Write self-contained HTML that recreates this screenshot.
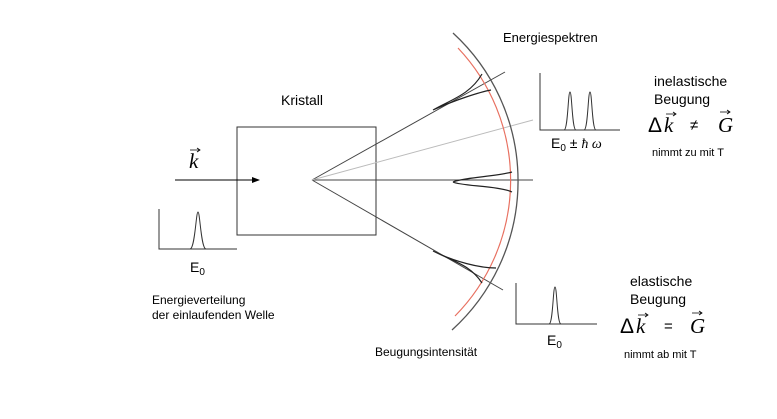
<!DOCTYPE html>
<html><head><meta charset="utf-8"><style>
body{margin:0;background:#fff}
svg{display:block;font-family:"Liberation Sans",sans-serif}
.s{font-family:"Liberation Serif",serif;font-style:italic}
</style></head><body>
<svg width="777" height="419" viewBox="0 0 777 419">
<defs><marker id="ah" markerWidth="8" markerHeight="6" refX="7" refY="3" orient="auto"><path d="M0,0L8,3L0,6z" fill="#000"/></marker></defs>
<rect x="237" y="127" width="139" height="108" fill="none" stroke="#333" stroke-width="1"/>
<text x="281" y="105" font-size="14">Kristall</text>
<line x1="175" y1="180" x2="259" y2="180" stroke="#000" marker-end="url(#ah)"/>
<text x="189" y="168" font-size="21" class="s">k</text>
<path d="M190,150H200M197,148L200,150L197,152" stroke="#000" stroke-width="0.8" fill="none"/>
<g stroke="#444" stroke-width="1" fill="none">
<line x1="312" y1="180" x2="505" y2="72"/>
<line x1="312" y1="180" x2="533" y2="180"/>
<line x1="312" y1="180" x2="503" y2="290"/>
<line x1="312" y1="180" x2="533" y2="120" stroke="#bbb"/>
</g>
<path d="M453,33 A201,201 0 0 1 452,330" fill="none" stroke="#555" stroke-width="1.3"/>
<path d="M458,48 A193,193 0 0 1 455,316" fill="none" stroke="#e87060" stroke-width="1.2"/>
<g stroke="#222" stroke-width="1.2" fill="none">
<path d="M433,110 C450,100 470,95 482,74 M433,110 C455,100 480,92 491,90"/>
<path d="M453,182 C460,178 500,176 512,172 M453,182 C460,186 500,186 512,192"/>
<path d="M433,251 C455,262 480,268 496,268 M433,251 C455,262 470,265 482,283"/>
</g>
<text x="503" y="42" font-size="13">Energiespektren</text>
<text x="375" y="356" font-size="12">Beugungsintensität</text>
<g stroke="#333" fill="none">
<path d="M159,209V249H237"/><path d="M190,249C195,249 196,212 198,212C200,212 201,249 206,249"/>
</g>
<text x="190" y="272" font-size="14">E<tspan font-size="10" dy="3">0</tspan></text>
<text x="152" y="304" font-size="12">Energieverteilung</text>
<text x="152" y="319" font-size="12">der einlaufenden Welle</text>
<g stroke="#333" fill="none">
<path d="M540,73V130H620"/><path d="M564,130C568,130 568,92 570,92C572,92 572,130 576,130M584,130C588,130 588,92 590,92C592,92 592,130 596,130"/>
</g>
<text x="551" y="148" font-size="14">E<tspan font-size="10" dy="3">0</tspan><tspan dy="-3"> ± </tspan><tspan class="s">ħ ω</tspan></text>
<text x="654" y="86" font-size="14">inelastische</text>
<text x="654" y="104" font-size="14">Beugung</text>
<g font-size="21">
<text x="648" y="132">Δ</text><text x="664" y="132" class="s">k</text>
<path d="M666,114H676M673,112L676,114L673,116" stroke="#000" stroke-width="0.8" fill="none"/>
<text x="690" y="130" font-size="15">≠</text>
<text x="718" y="132" class="s">G</text>
<path d="M720,112H730M727,110L730,112L727,114" stroke="#000" stroke-width="0.8" fill="none"/>
</g>
<text x="652" y="156" font-size="11">nimmt zu mit T</text>
<g stroke="#333" fill="none">
<path d="M516,283V324H597"/><path d="M549,324C553,324 553,287 555,287C557,287 557,324 561,324"/>
</g>
<text x="547" y="345" font-size="14">E<tspan font-size="10" dy="3">0</tspan></text>
<text x="630" y="286" font-size="14">elastische</text>
<text x="630" y="304" font-size="14">Beugung</text>
<g font-size="21">
<text x="620" y="333">Δ</text><text x="636" y="333" class="s">k</text>
<path d="M638,315H648M645,313L648,315L645,317" stroke="#000" stroke-width="0.8" fill="none"/>
<text x="664" y="331" font-size="15">=</text>
<text x="690" y="333" class="s">G</text>
<path d="M692,313H702M699,311L702,313L699,315" stroke="#000" stroke-width="0.8" fill="none"/>
</g>
<text x="624" y="358" font-size="11">nimmt ab mit T</text>
</svg>
</body></html>
